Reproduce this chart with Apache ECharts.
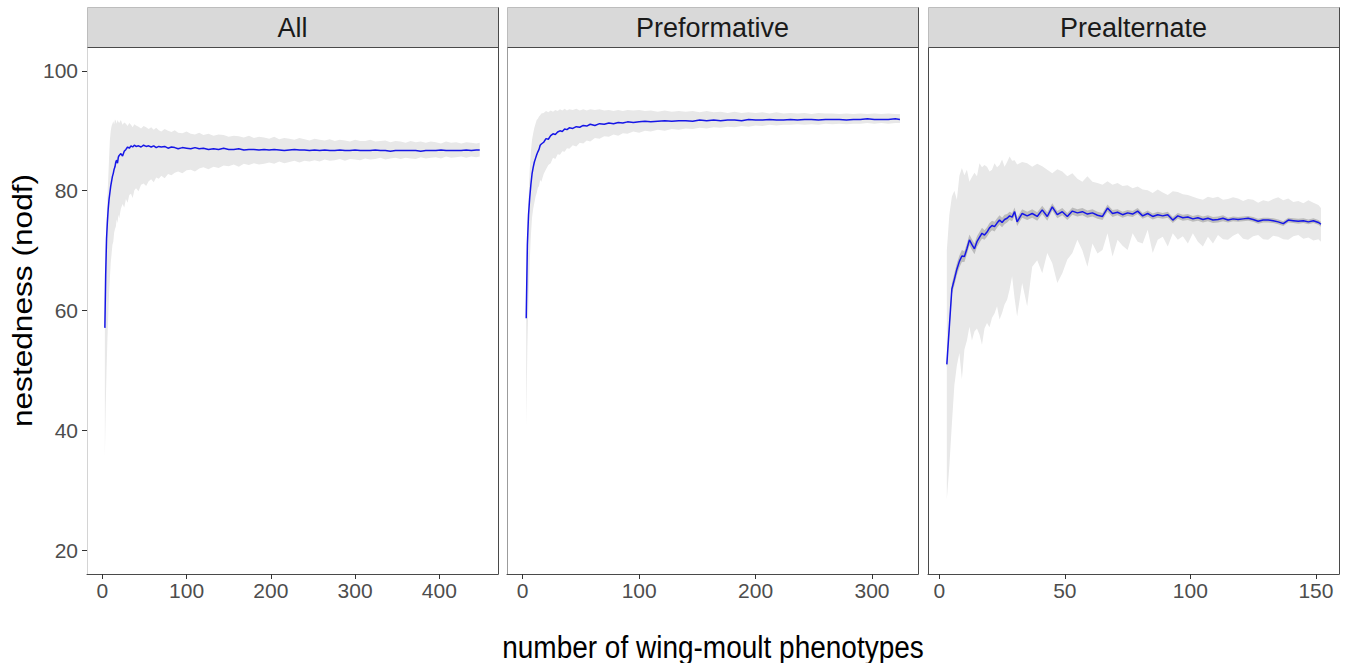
<!DOCTYPE html>
<html>
<head>
<meta charset="utf-8">
<script src="https://cdn.jsdelivr.net/npm/echarts@6/dist/echarts.min.js"></script>
<style>
html, body { margin: 0; padding: 0; background: #ffffff; }
#chart { width: 1346px; height: 663px; }
</style>
</head>
<body>
<div id="chart"></div>
<script>
// ---- Tick labels ----
const yTicks = [20, 40, 60, 80, 100];
const allTicks = [0, 100, 200, 300, 400];
const pfTicks = [0, 100, 200, 300];
const altTicks = [0, 50, 100, 150];
const panelTitles = ['All', 'Preformative', 'Prealternate'];

// ---- All moults: mean nestedness and min/max envelope ----
const allX = [
  3, 4, 5, 6, 7, 8, 9, 10, 11, 12,
  13, 14, 15, 16, 17, 18, 19, 20, 22, 24,
  26, 28, 30, 32, 34, 36, 38, 40, 43, 46,
  49, 52, 55, 58, 61, 64, 67, 70, 74, 78,
  82, 86, 90, 95, 100, 105, 110, 115, 120, 126,
  132, 138, 144, 150, 156, 162, 168, 174, 180, 186,
  192, 198, 204, 210, 216, 222, 228, 234, 240, 246,
  252, 258, 264, 270, 276, 282, 288, 294, 300, 306,
  312, 318, 324, 330, 336, 342, 348, 354, 360, 366,
  372, 378, 384, 390, 396, 402, 408, 414, 420, 426,
  432, 438, 444, 448
];
const allMean = [
  57.1, 66.0, 72.0, 74.8, 77.0, 78.6, 79.7, 80.8, 81.6, 82.4,
  82.9, 83.6, 84.0, 84.8, 85.1, 84.6, 85.6, 85.9, 86.2, 85.8,
  86.6, 86.9, 87.3, 87.1, 87.5, 87.3, 87.6, 87.4, 87.5, 87.3,
  87.6, 87.4, 87.5, 87.3, 87.5, 87.2, 87.4, 87.3, 87.4, 87.1,
  87.3, 87.2, 87.0, 87.2, 87.1, 87.0, 87.2, 87.0, 87.1, 86.9,
  87.0, 86.9, 87.1, 86.9, 86.9, 87.0, 86.8, 86.9, 86.9, 86.8,
  86.9, 86.8, 86.9, 86.8, 86.7, 86.8, 86.9, 86.8, 86.8, 86.7,
  86.8, 86.7, 86.8, 86.7, 86.7, 86.8, 86.7, 86.7, 86.8, 86.7,
  86.7, 86.7, 86.8, 86.7, 86.7, 86.6, 86.7, 86.7, 86.7, 86.7,
  86.7, 86.6, 86.7, 86.7, 86.7, 86.8, 86.7, 86.7, 86.7, 86.7,
  86.8, 86.7, 86.8, 86.8
];
const allHigh = [
  66.0, 71.0, 75.0, 79.0, 82.0, 85.5, 88.5, 90.0, 90.8, 91.2,
  91.6, 91.1, 91.9, 91.7, 91.2, 91.8, 91.5, 91.3, 91.8, 91.0,
  91.4, 91.2, 90.8, 91.3, 91.0, 90.6, 91.1, 90.9, 90.7, 90.4,
  90.8, 90.6, 90.3, 90.6, 90.2, 90.5, 90.1, 89.9, 90.3, 90.0,
  89.8, 90.1, 89.7, 89.6, 89.9, 89.5, 89.4, 89.7, 89.3, 89.5,
  89.2, 89.4, 89.3, 89.0, 89.2, 89.1, 88.9, 89.2, 88.8, 89.0,
  88.9, 88.7, 89.0, 88.6, 88.8, 88.7, 88.5, 88.8, 88.6, 88.4,
  88.7, 88.5, 88.4, 88.6, 88.3, 88.5, 88.4, 88.2, 88.5, 88.3,
  88.3, 88.5, 88.2, 88.3, 88.4, 88.1, 88.3, 88.2, 88.0, 88.3,
  88.1, 88.2, 88.0, 88.2, 88.1, 87.9, 88.2, 88.0, 88.1, 87.9,
  88.1, 88.0, 87.9, 88.0
];
const allLow = [
  35.5, 44.0, 50.0, 55.0, 59.0, 63.0, 65.5, 68.0, 69.5, 71.0,
  71.5, 73.0, 73.6, 74.0, 75.2, 74.6, 76.0, 75.4, 77.0, 77.8,
  77.2, 78.6, 78.0, 79.3, 79.5, 78.8, 80.1, 80.4, 79.9, 81.0,
  81.2, 80.8, 81.6, 81.9, 81.4, 82.2, 82.0, 82.5, 82.1, 82.8,
  82.6, 83.0, 83.2, 82.9, 83.4, 83.5, 83.2, 83.7, 83.9, 83.6,
  84.0, 83.8, 84.2, 84.1, 84.4, 84.0, 84.5, 84.3, 84.6, 84.4,
  84.5, 84.7, 84.5, 84.9, 84.6, 84.8, 85.0, 84.7, 85.0, 84.9,
  85.1, 84.9, 85.2, 85.0, 85.1, 85.3, 85.0, 85.3, 85.2, 85.1,
  85.4, 85.2, 85.3, 85.5, 85.2, 85.4, 85.5, 85.3, 85.5, 85.4,
  85.3, 85.6, 85.4, 85.5, 85.6, 85.4, 85.7, 85.5, 85.6, 85.7,
  85.5, 85.7, 85.6, 85.7
];

// ---- Preformative moult ----
const pfX = [
  3, 4, 5, 6, 7, 8, 9, 10, 11, 12,
  13, 14, 15, 16, 18, 20, 22, 24, 26, 28,
  30, 32, 34, 36, 38, 40, 43, 46, 49, 52,
  55, 58, 62, 66, 70, 74, 78, 82, 86, 90,
  95, 100, 105, 110, 116, 122, 128, 134, 140, 146,
  152, 158, 164, 170, 176, 182, 188, 194, 200, 206,
  212, 218, 224, 230, 236, 242, 248, 254, 260, 266,
  272, 278, 284, 290, 296, 302, 308, 314, 320, 324
];
const pfMean = [
  58.7, 71.0, 76.0, 78.8, 81.0, 82.8, 83.9, 84.8, 85.4, 86.0,
  86.5, 86.9, 87.6, 87.8, 88.1, 88.7, 88.6, 89.2, 89.5, 89.4,
  89.8, 90.0, 89.9, 90.3, 90.2, 90.5, 90.4, 90.7, 90.6, 90.9,
  90.8, 91.1, 90.9, 91.2, 91.1, 91.3, 91.2, 91.4, 91.3, 91.5,
  91.4, 91.5, 91.6, 91.5, 91.6, 91.7, 91.6, 91.7, 91.7, 91.6,
  91.8, 91.7, 91.8, 91.7, 91.8, 91.8, 91.7, 91.9, 91.8, 91.8,
  91.9, 91.8, 91.8, 91.9, 91.8, 91.9, 91.9, 91.8, 91.9, 91.9,
  91.9, 91.8, 91.9, 91.9, 92.0, 91.9, 91.9, 91.9, 92.0, 91.9
];
const pfHigh = [
  64.0, 74.0, 78.5, 83.5, 86.5, 88.5, 89.6, 90.5, 91.2, 91.8,
  92.0, 92.4, 92.6, 92.9, 93.0, 93.3, 93.1, 93.4, 93.2, 93.5,
  93.3, 93.6, 93.4, 93.7, 93.4, 93.6, 93.5, 93.7, 93.4, 93.6,
  93.4, 93.6, 93.5, 93.6, 93.4, 93.5, 93.3, 93.5, 93.3, 93.5,
  93.4, 93.5, 93.3, 93.4, 93.2, 93.4, 93.2, 93.3, 93.2, 93.3,
  93.1, 93.3, 93.1, 93.2, 93.0, 93.2, 93.0, 93.1, 93.0, 93.1,
  92.9, 93.1, 92.9, 93.0, 92.9, 93.0, 92.8, 93.0, 92.9, 92.9,
  92.8, 92.9, 92.8, 92.9, 92.8, 92.9, 92.8, 92.9, 92.8, 92.8
];
const pfLow = [
  40.5, 54.0, 62.0, 68.0, 72.5, 75.5, 77.0, 78.0, 79.0, 79.6,
  80.5, 80.8, 81.8, 81.5, 82.8, 83.6, 84.3, 84.6, 85.5, 85.3,
  86.1, 86.0, 86.6, 86.5, 87.1, 87.0, 87.6, 87.4, 88.0, 87.9,
  88.4, 88.2, 88.8, 88.7, 89.1, 89.0, 89.4, 89.2, 89.6, 89.5,
  89.9, 89.7, 90.0, 89.9, 90.2, 90.0, 90.3, 90.2, 90.4, 90.3,
  90.5, 90.4, 90.6, 90.5, 90.7, 90.6, 90.8, 90.7, 90.9, 90.8,
  91.0, 90.9, 91.0, 91.0, 91.1, 91.0, 91.1, 91.0, 91.2, 91.1,
  91.2, 91.1, 91.2, 91.2, 91.3, 91.2, 91.3, 91.2, 91.3, 91.3
];

// ---- Prealternate moult (with confidence half-width around the mean) ----
const altX = [
  3, 4, 5, 6, 7, 8, 9, 10, 11, 12,
  13, 14, 15, 16, 17, 18, 19, 20, 21, 22,
  23, 24, 25, 26, 27, 28, 29, 30, 31, 33,
  35, 37, 39, 41, 43, 45, 47, 49, 51, 53,
  55, 57, 59, 61, 63, 65, 67, 69, 71, 73,
  75, 77, 79, 81, 83, 85, 87, 89, 91, 93,
  95, 97, 99, 101, 103, 105, 107, 109, 111, 113,
  115, 117, 119, 121, 123, 125, 127, 129, 131, 133,
  135, 137, 139, 141, 143, 145, 147, 149, 151, 152
];
const altMean = [
  51.0, 57.3, 63.6, 65.2, 66.9, 68.2, 69.1, 69.0, 70.3, 71.8,
  71.0, 70.3, 71.5, 72.2, 72.9, 72.6, 73.1, 73.8, 74.2, 74.0,
  74.6, 75.1, 74.7, 75.2, 75.4, 75.8, 75.6, 76.5, 74.8, 76.2,
  75.8, 76.2, 75.7, 76.8, 75.7, 77.3, 76.0, 76.5, 75.7, 76.6,
  76.3, 76.5, 76.1, 76.3, 75.9, 75.7, 77.1, 76.2, 76.4, 76.0,
  76.3, 76.1, 76.6, 75.8, 76.2, 75.7, 76.0, 75.8, 76.0, 75.1,
  75.8, 75.5, 75.6, 75.3, 75.5, 75.2, 75.4, 75.1, 75.2, 75.4,
  75.1, 75.3, 75.2, 75.3, 75.4, 75.2, 74.9, 75.1, 75.1, 75.0,
  74.8, 74.5, 75.1, 75.0, 74.9, 75.0, 74.8, 75.0, 74.7, 74.4
];
const altHigh = [
  70.0, 76.0, 79.0, 80.0, 78.5, 82.5, 83.8, 82.6, 83.5, 81.5,
  82.3, 83.0, 82.4, 84.6, 83.9, 84.3, 84.0, 83.2, 83.5, 84.6,
  83.9, 84.3, 85.2, 84.0, 84.8, 85.7, 85.0, 85.1, 84.4, 84.8,
  84.6, 84.0, 84.5, 84.1, 83.5, 82.9, 83.6, 83.2, 82.4, 82.9,
  82.0, 81.5, 82.4, 81.5, 81.3, 81.0, 81.6, 81.0, 81.3, 80.8,
  80.9, 80.4, 80.7, 80.2, 80.1, 79.6, 80.2, 79.7, 79.3, 79.9,
  79.8, 79.4, 79.3, 79.0, 78.7, 78.5, 79.0, 78.8, 79.0, 78.5,
  78.6, 78.9, 78.7, 78.3, 78.6, 78.5, 78.0, 78.4, 78.2, 78.6,
  78.9, 78.4, 78.7, 78.1, 78.3, 77.9, 78.4, 78.0, 77.6, 77.1
];
const altLow = [
  28.5, 34.0, 41.0, 47.5, 50.8, 52.9, 48.5, 53.5, 55.0, 57.3,
  55.0, 56.5, 57.0, 56.0, 54.3, 57.0, 57.9, 57.2, 58.8, 59.5,
  60.7, 58.5, 59.6, 61.0, 61.8, 63.5, 65.7, 62.0, 59.0, 64.6,
  60.7, 67.3, 68.4, 66.2, 69.6, 67.9, 64.6, 66.2, 68.5, 69.6,
  71.8, 70.0, 67.3, 71.2, 69.5, 70.1, 72.9, 69.0, 71.8, 70.8,
  70.1, 72.9, 71.5, 71.2, 73.5, 69.6, 71.8, 72.3, 70.7, 72.9,
  71.8, 72.4, 71.2, 72.9, 71.5, 70.7, 72.3, 71.2, 72.6, 71.9,
  71.8, 72.5, 72.9, 72.0, 71.8, 72.4, 72.6, 71.9, 71.8, 72.5,
  72.3, 71.9, 71.8, 72.4, 72.6, 72.0, 72.2, 71.7, 71.9, 71.5
];
const altCi = [
  0.5, 0.8, 0.9, 1.0, 1.0, 1.0, 1.0, 0.9, 0.9, 0.9,
  0.9, 0.9, 0.9, 0.9, 0.9, 0.8, 0.8, 0.8, 0.8, 0.8,
  0.8, 0.8, 0.8, 0.8, 0.7, 0.7, 0.7, 0.7, 0.7, 0.7,
  0.7, 0.7, 0.7, 0.7, 0.7, 0.6, 0.6, 0.6, 0.6, 0.6,
  0.6, 0.6, 0.6, 0.6, 0.6, 0.6, 0.6, 0.6, 0.5, 0.5,
  0.5, 0.5, 0.5, 0.5, 0.5, 0.5, 0.5, 0.5, 0.5, 0.5,
  0.5, 0.5, 0.5, 0.5, 0.5, 0.5, 0.5, 0.5, 0.5, 0.5,
  0.4, 0.4, 0.4, 0.4, 0.4, 0.4, 0.4, 0.4, 0.4, 0.4,
  0.4, 0.4, 0.4, 0.4, 0.4, 0.4, 0.4, 0.4, 0.4, 0.4
];

// ---- Layout and styling ----
const FONT = '"Liberation Sans", Arial, Helvetica, sans-serif';
const PLOT_TOP = 47;
const PLOT_H = 527;
const PANEL_W = 411;
const STRIP_TOP = 7.5;
const LINE_BLUE = '#1616e6';
const ENVELOPE = '#e8e8e8';
const CI_FILL = '#bcbcbc';
const FRAME = '#4a4a4a';

const panels = [
  { x: allX, mean: allMean, low: allLow, high: allHigh, ci: null, ticks: allTicks,
    range: [-18.2, 469.7], left: 87, leftEdge: '#d4d4d4' },
  { x: pfX, mean: pfMean, low: pfLow, high: pfHigh, ci: null, ticks: pfTicks,
    range: [-13.5, 339.5], left: 507, leftEdge: '#9c9c9c' },
  { x: altX, mean: altMean, low: altLow, high: altHigh, ci: altCi, ticks: altTicks,
    range: [-4.5, 159.2], left: 928, leftEdge: FRAME }
];

// Closed band polygon between two bounds, projected through the panel's axes.
function bandSeries(i, xs, lo, hi, fill, z) {
  return {
    type: 'custom',
    xAxisIndex: i,
    yAxisIndex: i,
    clip: true,
    silent: true,
    z: z,
    data: xs.map((x, k) => [x, lo[k], hi[k]]),
    encode: { x: 0, y: [1, 2] },
    renderItem: function (params, api) {
      if (params.dataIndex !== 0) return null;
      const pts = [];
      for (let k = 0; k < xs.length; k++) pts.push(api.coord([xs[k], hi[k]]));
      for (let k = xs.length - 1; k >= 0; k--) pts.push(api.coord([xs[k], lo[k]]));
      return { type: 'polygon', shape: { points: pts }, style: { fill: fill, stroke: null } };
    }
  };
}

const grids = [], xAxes = [], yAxes = [], series = [], graphics = [];

panels.forEach((p, i) => {
  grids.push({ left: p.left, top: PLOT_TOP, width: PANEL_W, height: PLOT_H, show: false, containLabel: false });

  xAxes.push({
    type: 'value', gridIndex: i, min: p.range[0], max: p.range[1],
    splitLine: { show: false },
    axisLine: { show: true, onZero: false, lineStyle: { color: FRAME, width: 1 } },
    axisTick: { show: true, length: 5, customValues: p.ticks, lineStyle: { color: '#333333', width: 1 } },
    axisLabel: { show: true, customValues: p.ticks, margin: 6, color: '#4d4d4d',
                 fontSize: 21, fontFamily: FONT }
  });

  yAxes.push({
    type: 'value', gridIndex: i, min: 16, max: 104,
    splitLine: { show: false },
    axisLine: { show: true, onZero: false, lineStyle: { color: p.leftEdge, width: 1 } },
    axisTick: { show: i === 0, length: 5, customValues: yTicks, lineStyle: { color: '#333333', width: 1 } },
    axisLabel: { show: i === 0, customValues: yTicks, margin: 9, color: '#4d4d4d',
                 fontSize: 21, fontFamily: FONT }
  });

  series.push(bandSeries(i, p.x, p.low, p.high, ENVELOPE, 1));
  if (p.ci) {
    const ciLo = p.mean.map((m, k) => m - p.ci[k]);
    const ciHi = p.mean.map((m, k) => m + p.ci[k]);
    series.push(bandSeries(i, p.x, ciLo, ciHi, CI_FILL, 2));
  }
  series.push({
    type: 'line', xAxisIndex: i, yAxisIndex: i, z: 3,
    data: p.x.map((x, k) => [x, p.mean[k]]),
    showSymbol: false, symbol: 'none', silent: true,
    lineStyle: { color: LINE_BLUE, width: 1.5 }
  });

  // facet strip and the remaining frame edges
  const L = p.left + 0.5, R = p.left + PANEL_W + 0.5;
  graphics.push({
    type: 'rect', z: 10,
    shape: { x: L, y: STRIP_TOP, width: PANEL_W, height: PLOT_TOP + 0.5 - STRIP_TOP },
    style: { fill: '#d9d9d9', stroke: '#bdbdbd', lineWidth: 1 }
  });
  graphics.push({
    type: 'line', z: 11,
    shape: { x1: L, y1: PLOT_TOP + 0.5, x2: R, y2: PLOT_TOP + 0.5 },
    style: { stroke: FRAME, lineWidth: 1 }
  });
  graphics.push({
    type: 'line', z: 11,
    shape: { x1: R, y1: STRIP_TOP, x2: R, y2: PLOT_TOP + PLOT_H + 0.5 },
    style: { stroke: FRAME, lineWidth: 1 }
  });
  graphics.push({
    type: 'text', z: 12,
    x: p.left + PANEL_W / 2, y: 28.3,
    style: { text: panelTitles[i], fontSize: 27, fontFamily: FONT, fill: '#1a1a1a',
             align: 'center', verticalAlign: 'middle', textAlign: 'center', textVerticalAlign: 'middle' }
  });
});

// shared axis titles
graphics.push({
  type: 'text', z: 12,
  x: 713, y: 647, scaleY: 1.1,
  style: { text: 'number of wing-moult phenotypes', fontSize: 28, fontFamily: FONT, fill: '#000000',
           align: 'center', verticalAlign: 'middle', textAlign: 'center', textVerticalAlign: 'middle' }
});
graphics.push({
  type: 'text', z: 12,
  x: 22, y: 300.5, rotation: Math.PI / 2, scaleX: 1.13,
  style: { text: 'nestedness (nodf)', fontSize: 28, fontFamily: FONT, fill: '#000000',
           align: 'center', verticalAlign: 'middle', textAlign: 'center', textVerticalAlign: 'middle' }
});

const chart = echarts.init(document.getElementById('chart'), null, { renderer: 'svg' });
chart.setOption({
  animation: false,
  backgroundColor: '#ffffff',
  grid: grids,
  xAxis: xAxes,
  yAxis: yAxes,
  series: series,
  graphic: { elements: graphics }
});
</script>
</body>
</html>
